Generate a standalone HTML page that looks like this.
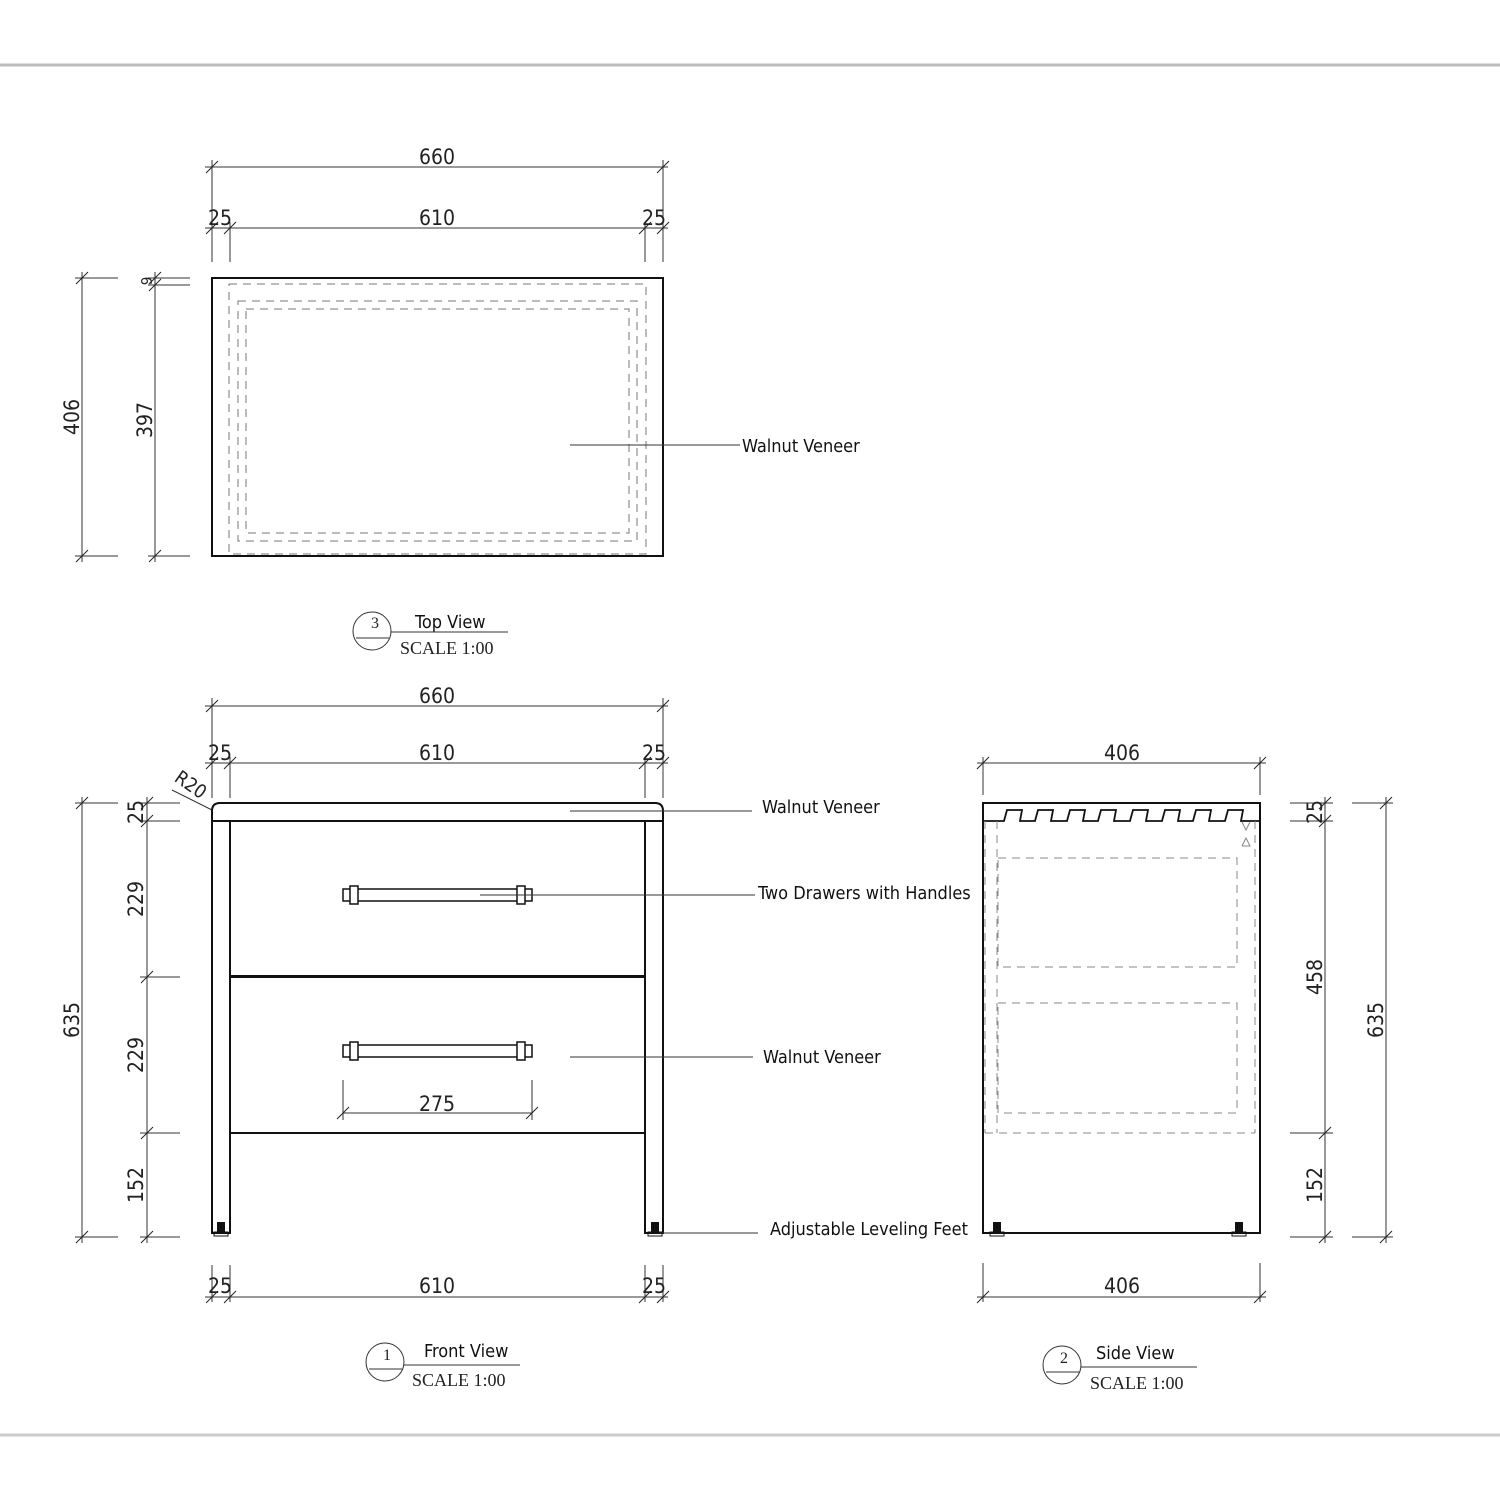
<!DOCTYPE html>
<html><head><meta charset="utf-8"><style>
body{margin:0;background:#fff}
svg{display:block}
.n{font-family:"DejaVu Sans Condensed","Liberation Sans Narrow","Liberation Sans",sans-serif;font-size:21px;fill:#222}
.l{font-family:"DejaVu Sans Condensed","Liberation Sans",sans-serif;font-size:18px;fill:#111}
.s{font-family:"Liberation Serif",serif;font-size:18px;fill:#222}
</style></head><body>
<svg width="1500" height="1500" viewBox="0 0 1500 1500" xmlns="http://www.w3.org/2000/svg">
<defs><g id="t"><line x1="-6" y1="6" x2="6" y2="-6" stroke="#222" stroke-width="1"/></g></defs>
<line x1="0" y1="65" x2="1500" y2="65" stroke="#bbb" stroke-width="3"/>
<line x1="0" y1="1435" x2="1500" y2="1435" stroke="#ccc" stroke-width="3"/>
<g stroke="#333" stroke-width="1" fill="none">
<!-- TOP VIEW -->
<line x1="205" y1="167" x2="668" y2="167"/><line x1="212" y1="160" x2="212" y2="262"/><line x1="663" y1="160" x2="663" y2="262"/>
<line x1="205" y1="228" x2="668" y2="228"/><line x1="230" y1="222" x2="230" y2="262"/><line x1="645" y1="222" x2="645" y2="262"/>
<line x1="82" y1="272" x2="82" y2="562"/><line x1="75" y1="278" x2="118" y2="278"/><line x1="75" y1="556" x2="118" y2="556"/>
<line x1="155" y1="272" x2="155" y2="562"/><line x1="148" y1="278" x2="190" y2="278"/><line x1="148" y1="285" x2="190" y2="285"/><line x1="148" y1="556" x2="190" y2="556"/>
<rect x="212" y="278" width="451" height="278" stroke="#111" stroke-width="2"/>
<g stroke="#777" stroke-dasharray="8,6">
<rect x="229" y="284" width="417" height="270"/>
<rect x="238" y="301" width="399" height="240"/>
<rect x="246" y="309" width="383" height="224"/>
</g>
<line x1="570" y1="445" x2="740" y2="445"/>
<circle cx="372" cy="631" r="19"/><line x1="356" y1="638" x2="389" y2="638"/><line x1="391" y1="632" x2="508" y2="632"/>
<!-- FRONT VIEW -->
<line x1="205" y1="706" x2="668" y2="706"/><line x1="212" y1="698" x2="212" y2="798"/><line x1="663" y1="698" x2="663" y2="798"/>
<line x1="205" y1="763" x2="668" y2="763"/><line x1="230" y1="757" x2="230" y2="798"/><line x1="645" y1="757" x2="645" y2="798"/>
<line x1="172" y1="790" x2="212" y2="810"/>
<line x1="82" y1="797" x2="82" y2="1243"/><line x1="75" y1="803" x2="118" y2="803"/><line x1="75" y1="1237" x2="118" y2="1237"/>
<line x1="147" y1="797" x2="147" y2="1243"/>
<line x1="140" y1="803" x2="180" y2="803"/><line x1="140" y1="821" x2="180" y2="821"/><line x1="140" y1="977" x2="180" y2="977"/><line x1="140" y1="1133" x2="180" y2="1133"/><line x1="140" y1="1237" x2="180" y2="1237"/>
<path d="M212 821 V811 Q212 803 220 803 H655 Q663 803 663 811 V821 Z" stroke="#111" stroke-width="2"/>
<rect x="212" y="821" width="18" height="412" stroke="#111" stroke-width="2"/>
<rect x="645" y="821" width="18" height="412" stroke="#111" stroke-width="2"/>
<rect x="230" y="821" width="415" height="156" stroke="#111" stroke-width="2"/>
<rect x="230" y="977" width="415" height="156" stroke="#111" stroke-width="2"/>
<line x1="230" y1="976" x2="645" y2="976" stroke="#111" stroke-width="2"/>
<rect x="343" y="889" width="189" height="12" stroke="#111" stroke-width="1.5"/>
<rect x="350" y="886" width="8" height="18" fill="#fff" stroke="#111" stroke-width="1.5"/><rect x="517" y="886" width="8" height="18" fill="#fff" stroke="#111" stroke-width="1.5"/>
<rect x="343" y="1045" width="189" height="12" stroke="#111" stroke-width="1.5"/>
<rect x="350" y="1042" width="8" height="18" fill="#fff" stroke="#111" stroke-width="1.5"/><rect x="517" y="1042" width="8" height="18" fill="#fff" stroke="#111" stroke-width="1.5"/>
<line x1="343" y1="1113" x2="532" y2="1113"/><line x1="343" y1="1080" x2="343" y2="1120"/><line x1="532" y1="1080" x2="532" y2="1120"/>
<line x1="205" y1="1297" x2="668" y2="1297"/><line x1="212" y1="1265" x2="212" y2="1302"/><line x1="230" y1="1265" x2="230" y2="1302"/><line x1="645" y1="1265" x2="645" y2="1302"/><line x1="663" y1="1265" x2="663" y2="1302"/>
<line x1="570" y1="811" x2="752" y2="811"/>
<line x1="480" y1="895" x2="755" y2="895"/>
<line x1="570" y1="1057" x2="753" y2="1057"/>
<line x1="660" y1="1233" x2="758" y2="1233"/>
<circle cx="385" cy="1362" r="19"/><line x1="369" y1="1369" x2="402" y2="1369"/><line x1="404" y1="1365" x2="520" y2="1365"/>
<!-- SIDE VIEW -->
<line x1="977" y1="763" x2="1266" y2="763"/><line x1="983" y1="757" x2="983" y2="795"/><line x1="1260" y1="757" x2="1260" y2="795"/>
<line x1="977" y1="1297" x2="1266" y2="1297"/><line x1="983" y1="1263" x2="983" y2="1302"/><line x1="1260" y1="1263" x2="1260" y2="1302"/>
<line x1="1325" y1="797" x2="1325" y2="1243"/>
<line x1="1290" y1="803" x2="1333" y2="803"/><line x1="1290" y1="821" x2="1333" y2="821"/><line x1="1290" y1="1133" x2="1333" y2="1133"/><line x1="1290" y1="1237" x2="1333" y2="1237"/>
<line x1="1386" y1="797" x2="1386" y2="1243"/><line x1="1352" y1="803" x2="1393" y2="803"/><line x1="1352" y1="1237" x2="1393" y2="1237"/>
<rect x="983" y="803" width="277" height="430" stroke="#111" stroke-width="2"/>
<path d="M983 821 H1004 L1007 810 H1022 L1020 821 H1035 L1038 810 H1053 L1051 821 H1067 L1070 810 H1085 L1083 821 H1098 L1101 810 H1116 L1114 821 H1130 L1133 810 H1148 L1146 821 H1162 L1165 810 H1180 L1178 821 H1193 L1196 810 H1211 L1209 821 H1225 L1228 810 H1243 L1241 821 H1260" stroke="#111" stroke-width="1.8"/>
<g stroke="#888" stroke-dasharray="8,6">
<line x1="985" y1="821" x2="985" y2="1133"/><line x1="997" y1="821" x2="997" y2="1133"/><line x1="1255" y1="821" x2="1255" y2="1133"/>
<line x1="985" y1="1133" x2="1255" y2="1133"/>
<rect x="998" y="858" width="239" height="109"/>
<rect x="998" y="1003" width="239" height="110"/>
</g>
<path d="M1242 822 l4 8 l4 -8 M1242 846 l4 -8 l4 8 h-8" stroke="#888"/>
<circle cx="1062" cy="1365" r="19"/><line x1="1046" y1="1372" x2="1079" y2="1372"/><line x1="1081" y1="1367" x2="1197" y2="1367"/>
</g>
<!-- feet -->
<g fill="#111">
<rect x="217" y="1222" width="8" height="11"/><rect x="651" y="1222" width="8" height="11"/>
<rect x="993" y="1222" width="8" height="11"/><rect x="1235" y="1222" width="8" height="11"/>
<rect x="214" y="1232" width="14" height="4" fill="none" stroke="#111"/><rect x="648" y="1232" width="14" height="4" fill="none" stroke="#111"/>
<rect x="990" y="1232" width="14" height="4" fill="none" stroke="#111"/><rect x="1232" y="1232" width="14" height="4" fill="none" stroke="#111"/>
</g>
<!-- ticks -->
<use href="#t" x="212" y="167"/><use href="#t" x="663" y="167"/>
<use href="#t" x="212" y="228"/><use href="#t" x="230" y="228"/><use href="#t" x="645" y="228"/><use href="#t" x="663" y="228"/>
<use href="#t" x="82" y="278"/><use href="#t" x="82" y="556"/><use href="#t" x="155" y="278"/><use href="#t" x="155" y="285"/><use href="#t" x="155" y="556"/>
<use href="#t" x="212" y="706"/><use href="#t" x="663" y="706"/>
<use href="#t" x="212" y="763"/><use href="#t" x="230" y="763"/><use href="#t" x="645" y="763"/><use href="#t" x="663" y="763"/>
<use href="#t" x="82" y="803"/><use href="#t" x="82" y="1237"/>
<use href="#t" x="147" y="803"/><use href="#t" x="147" y="821"/><use href="#t" x="147" y="977"/><use href="#t" x="147" y="1133"/><use href="#t" x="147" y="1237"/>
<use href="#t" x="343" y="1113"/><use href="#t" x="532" y="1113"/>
<use href="#t" x="212" y="1297"/><use href="#t" x="230" y="1297"/><use href="#t" x="645" y="1297"/><use href="#t" x="663" y="1297"/>
<use href="#t" x="983" y="763"/><use href="#t" x="1260" y="763"/><use href="#t" x="983" y="1297"/><use href="#t" x="1260" y="1297"/>
<use href="#t" x="1325" y="803"/><use href="#t" x="1325" y="821"/><use href="#t" x="1325" y="1133"/><use href="#t" x="1325" y="1237"/>
<use href="#t" x="1386" y="803"/><use href="#t" x="1386" y="1237"/>
<!-- text -->
<g class="n" text-anchor="middle">
<text x="437" y="164">660</text><text x="220" y="225">25</text><text x="437" y="225">610</text><text x="654" y="225">25</text>
<text transform="translate(79,417) rotate(-90)">406</text>
<text transform="translate(152,420) rotate(-90)">397</text>
<text transform="translate(152,281) rotate(-90)" font-size="15">9</text>
<text x="437" y="703">660</text><text x="220" y="760">25</text><text x="437" y="760">610</text><text x="654" y="760">25</text>
<text transform="translate(187,790) rotate(35)" font-size="19">R20</text>
<text transform="translate(79,1020) rotate(-90)">635</text>
<text transform="translate(143,812) rotate(-90)">25</text>
<text transform="translate(143,899) rotate(-90)">229</text>
<text transform="translate(143,1055) rotate(-90)">229</text>
<text transform="translate(143,1185) rotate(-90)">152</text>
<text x="437" y="1111">275</text>
<text x="220" y="1293">25</text><text x="437" y="1293">610</text><text x="654" y="1293">25</text>
<text x="1122" y="760">406</text><text x="1122" y="1293">406</text>
<text transform="translate(1322,812) rotate(-90)">25</text>
<text transform="translate(1322,977) rotate(-90)">458</text>
<text transform="translate(1322,1185) rotate(-90)">152</text>
<text transform="translate(1383,1020) rotate(-90)">635</text>
</g>
<g class="l">
<text x="742" y="452">Walnut Veneer</text>
<text x="762" y="813">Walnut Veneer</text>
<text x="758" y="899">Two Drawers with Handles</text>
<text x="763" y="1063">Walnut Veneer</text>
<text x="770" y="1235">Adjustable Leveling Feet</text>
<text x="415" y="628">Top View</text>
<text x="424" y="1357">Front View</text>
<text x="1096" y="1359">Side View</text>
</g>
<g class="s">
<text x="375" y="628" text-anchor="middle" font-size="16">3</text>
<text x="387" y="1360" text-anchor="middle" font-size="16">1</text>
<text x="1064" y="1363" text-anchor="middle" font-size="16">2</text>
<text x="400" y="654">SCALE  1:00</text>
<text x="412" y="1386">SCALE  1:00</text>
<text x="1090" y="1389">SCALE  1:00</text>
</g>
</svg>
</body></html>
